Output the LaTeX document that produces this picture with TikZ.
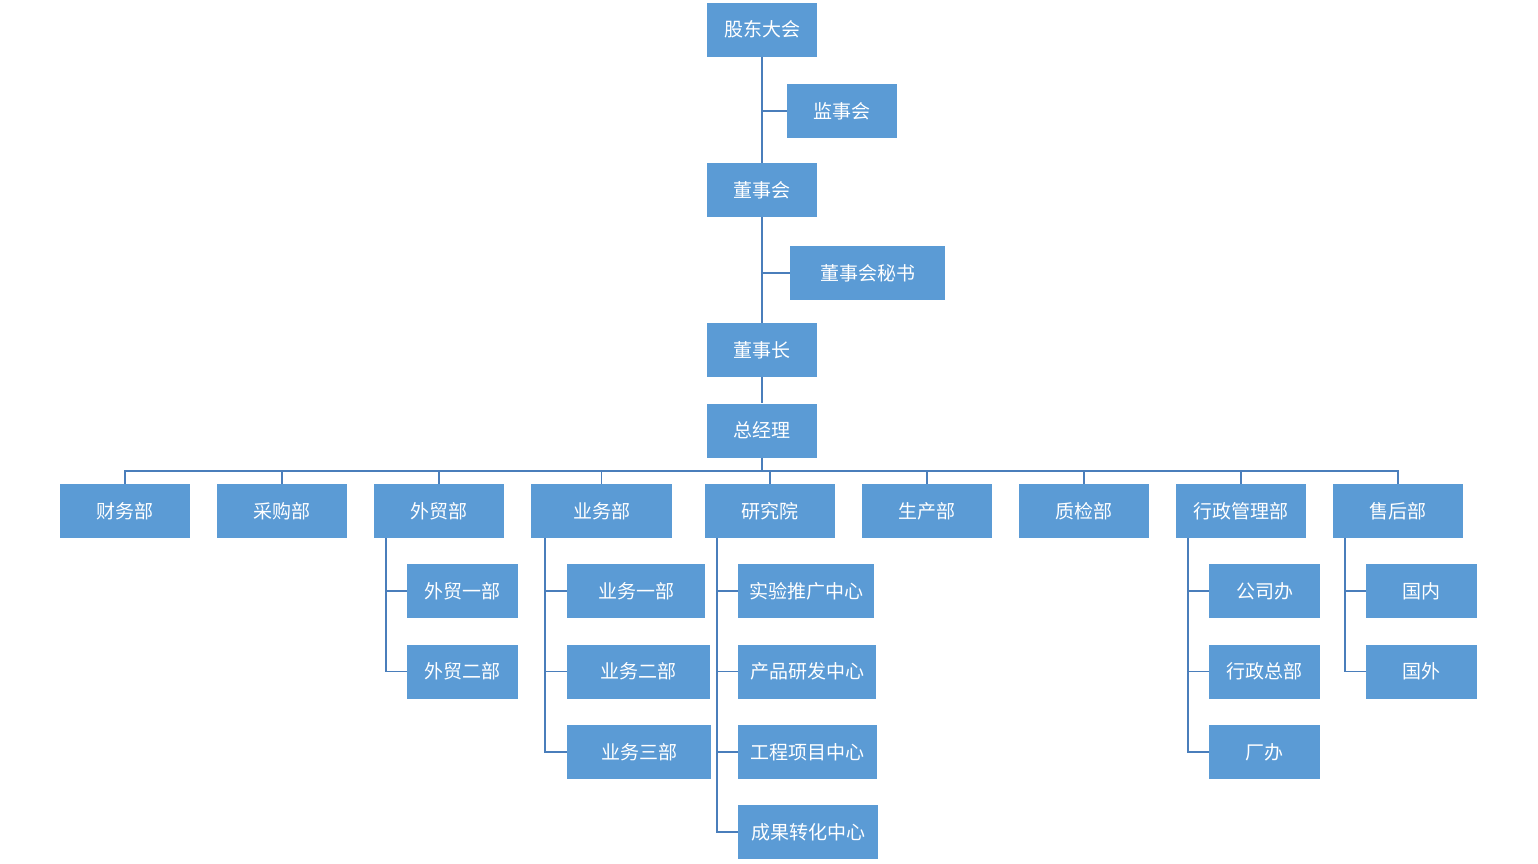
\documentclass[tikz,border=0pt]{standalone}
\usepackage{fontspec}
\setmainfont{Noto Sans CJK SC}
\definecolor{boxblue}{HTML}{5B9BD5}
\definecolor{lineblue}{HTML}{4A7EBB}
\tikzset{
  box/.style={fill=boxblue, text=white, inner sep=0pt, minimum height=54pt,
    font=\fontsize{19}{22}\selectfont},
  link/.style={draw=lineblue, line width=1.5pt}
}
\begin{document}
\begin{tikzpicture}[x=1pt,y=-1pt]
        \useasboundingbox (0,0) rectangle (1538,863);
        % top chain
        \node[box, minimum width=110pt] (gd) at (762,29.5) {股东大会};
        \node[box, minimum width=110pt] (jsh) at (842,111) {监事会};
        \node[box, minimum width=110pt] (dsh) at (762,190) {董事会};
        \node[box, minimum width=155pt] (ms) at (867.5,273) {董事会秘书};
        \node[box, minimum width=110pt] (dsz) at (762,350) {董事长};
        \node[box, minimum width=110pt] (zjl) at (762,430.5) {总经理};
        \coordinate (bus) at (762,471);

        % departments
        \node[box, minimum width=130pt] (cw) at (125,511) {财务部};
        \node[box, minimum width=130pt] (cg) at (282,511) {采购部};
        \node[box, minimum width=130pt] (wm) at (439,511) {外贸部};
        \node[box, minimum width=141pt] (yw) at (601.5,511) {业务部};
        \node[box, minimum width=130pt] (yjy) at (770,511) {研究院};
        \node[box, minimum width=130pt] (sc) at (927,511) {生产部};
        \node[box, minimum width=130pt] (zj) at (1084,511) {质检部};
        \node[box, minimum width=130pt] (xz) at (1241,511) {行政管理部};
        \node[box, minimum width=130pt] (sh) at (1398,511) {售后部};

        % sub units
        \node[box, minimum width=111pt] (wm1) at (462.5,591) {外贸一部};
        \node[box, minimum width=111pt] (wm2) at (462.5,671.5) {外贸二部};
        \node[box, minimum width=138pt] (yw1) at (636,591) {业务一部};
        \node[box, minimum width=143pt] (yw2) at (638.5,671.5) {业务二部};
        \node[box, minimum width=144pt] (yw3) at (639,752) {业务三部};
        \node[box, minimum width=136pt] (yj1) at (806,591) {实验推广中心};
        \node[box, minimum width=138pt] (yj2) at (807,671.5) {产品研发中心};
        \node[box, minimum width=139pt] (yj3) at (807.5,752) {工程项目中心};
        \node[box, minimum width=140pt] (yj4) at (808,832) {成果转化中心};
        \node[box, minimum width=111pt] (xz1) at (1264.5,591) {公司办};
        \node[box, minimum width=111pt] (xz2) at (1264.5,671.5) {行政总部};
        \node[box, minimum width=111pt] (xz3) at (1264.5,752) {厂办};
        \node[box, minimum width=111pt] (sh1) at (1421.5,591) {国内};
        \node[box, minimum width=111pt] (sh2) at (1421.5,671.5) {国外};

        % connectors
        \draw[link] (gd.south) -- (dsh.north);
        \draw[link] (jsh.west) -- (jsh.west -| gd.south);
        \draw[link] (dsh.south) -- (dsz.north);
        \draw[link] (ms.west) -- (ms.west -| dsh.south);
        \draw[link] (dsz.south) -- (zjl.north);
        \draw[link] (zjl.south) -- (bus);
        \foreach \d in {cw,cg,wm,yw,yjy,sc,zj,xz,sh}
          \draw[link] (\d.north) |- (bus);

        \foreach \s in {wm1,wm2}
          \draw[link] ([xshift=12pt]wm.south west) |- (\s.west);
        \foreach \s in {yw1,yw2,yw3}
          \draw[link] ([xshift=14pt]yw.south west) |- (\s.west);
        \foreach \s in {yj1,yj2,yj3,yj4}
          \draw[link] ([xshift=12pt]yjy.south west) |- (\s.west);
        \foreach \s in {xz1,xz2,xz3}
          \draw[link] ([xshift=12pt]xz.south west) |- (\s.west);
        \foreach \s in {sh1,sh2}
          \draw[link] ([xshift=12pt]sh.south west) |- (\s.west);
\end{tikzpicture}
\end{document}
